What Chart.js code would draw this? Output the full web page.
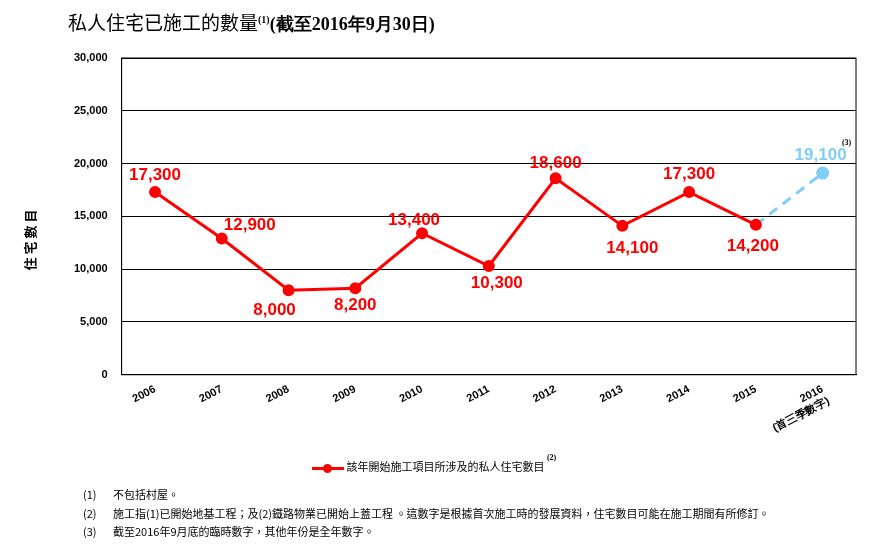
<!DOCTYPE html>
<html><head><meta charset="utf-8">
<script src="https://cdn.jsdelivr.net/npm/chart.js@4/dist/chart.umd.min.js"></script>
<style>
body{margin:0;background:#fff;font-family:"Noto Sans CJK TC","Liberation Serif",serif;}
#wrap{position:relative;width:894px;height:547px;}
#c{position:absolute;left:0;top:0;}
.t{position:absolute;color:#000;white-space:nowrap;}
#title{left:68px;top:8px;font-size:19px;}
#title b{font-family:"Liberation Serif";font-size:18px;}
#title sup{font-size:10px;font-family:"Liberation Serif";font-weight:bold;}
.fn{font-size:11px;left:83px;}
.fn span{display:inline-block;width:30px;}
#legend{left:312px;top:458px;font-size:11px;}
#legend sup{font-size:8px;font-family:"Liberation Serif";font-weight:bold;}
</style></head><body>
<div id="wrap">
<canvas id="c" width="894" height="547"></canvas>
<div class="t" id="title">私人住宅已施工的數量<sup>(1)</sup><b>(截至2016年9月30日)</b></div>
<div class="t" id="legend"><span style="display:inline-block;position:relative;width:32px;height:10px;vertical-align:middle"><span style="position:absolute;left:0;top:4px;width:32px;height:3px;background:#f00"></span><span style="position:absolute;left:11px;top:1px;width:9px;height:9px;border-radius:50%;background:#f00"></span></span> 該年開始施工項目所涉及的私人住宅數目 <sup style="position:relative;top:-6px">(2)</sup></div>
<div class="t fn" style="top:486px"><span>(1)</span>不包括村屋。</div>
<div class="t fn" style="top:505px"><span>(2)</span>施工指(1)已開始地基工程；及(2)鐵路物業已開始上蓋工程 。這數字是根據首次施工時的發展資料，住宅數目可能在施工期間有所修訂。</div>
<div class="t fn" style="top:523px"><span>(3)</span>截至2016年9月底的臨時數字，其他年份是全年數字。</div>
</div>
<script>
const years = ["2006","2007","2008","2009","2010","2011","2012","2013","2014","2015","2016"];
const actual = [17300,12900,8000,8200,13400,10300,18600,14100,17300,14200,null];
const provisional = [null,null,null,null,null,null,null,null,null,14200,19100];
// label offsets [dx, dy] relative to each point
const labelOffset = [[0,-17],[28,-13],[-14,20],[0,17],[-8,-13],[8,17],[0,-15],[10,22],[0,-18],[-3,22],[-2,-18]];

const valueLabels = {
  id: "valueLabels",
  afterDatasetsDraw(chart) {
    const ctx = chart.ctx;
    ctx.save();
    ctx.font = "bold 17px 'Liberation Sans'";
    ctx.textAlign = "center";
    ctx.textBaseline = "middle";
    years.forEach((y, i) => {
      const ds = i === 10 ? 1 : 0;
      const v = chart.data.datasets[ds].data[i];
      const p = chart.getDatasetMeta(ds).data[i];
      ctx.fillStyle = ds === 1 ? "#80cef5" : "#f00";
      ctx.fillText(v.toLocaleString("en-US"), p.x + labelOffset[i][0], p.y + labelOffset[i][1]);
    });
    const p = chart.getDatasetMeta(1).data[10];
    ctx.fillStyle = "#000";
    ctx.font = "bold 8px 'Liberation Serif'";
    ctx.fillText("(3)", p.x + 24, p.y - 30);
    // axis title
    ctx.font = "bold 13px 'Noto Sans CJK TC'";
    ctx.translate(30, 240);
    ctx.rotate(-Math.PI / 2);
    ctx.fillText("住 宅 數 目", 0, 0);
    ctx.restore();
  }
};

new Chart(document.getElementById("c"), {
  type: "line",
  data: {
    labels: years,
    datasets: [
      { data: actual, borderColor: "#f00", backgroundColor: "#f00", borderWidth: 3, pointRadius: 4.5, pointHoverRadius: 4.5, tension: 0 },
      { data: provisional, borderColor: "#80cef5", backgroundColor: "#80cef5", borderWidth: 3, borderDash: [10, 7],
        pointRadius: [0,0,0,0,0,0,0,0,0,0,5], tension: 0 }
    ]
  },
  options: {
    responsive: false,
    animation: false,
    layout: { padding: { left: 60, right: 38, top: 58, bottom: 104 } },
    plugins: { legend: { display: false }, tooltip: { enabled: false } },
    scales: {
      x: {
        offset: true,
        grid: { display: false, drawTicks: false },
        border: { color: "#000" },
        ticks: {
          color: "#000", padding: 8,
          font: { size: 11, weight: "bold", family: "'Liberation Sans'" },
          callback: (v, i) => i === 10 ? ["2016", "(首三季數字)"] : years[i]
        }
      },
      y: {
        min: 0, max: 30000,
        ticks: { stepSize: 5000, color: "#000", padding: 14,
          font: { size: 11, weight: "bold", family: "'Liberation Sans'" },
          callback: v => v.toLocaleString("en-US") },
        grid: { color: "#000", drawTicks: false },
        border: { color: "#000" }
      }
    }
  },
  plugins: [valueLabels, {
    id: "box",
    afterDraw(chart) {
      const a = chart.chartArea, ctx = chart.ctx;
      ctx.save(); ctx.strokeStyle = "#000"; ctx.lineWidth = 1;
      ctx.strokeRect(a.left, a.top, a.right - a.left, a.bottom - a.top);
      ctx.restore();
    }
  }]
});
</script>
</body></html>
